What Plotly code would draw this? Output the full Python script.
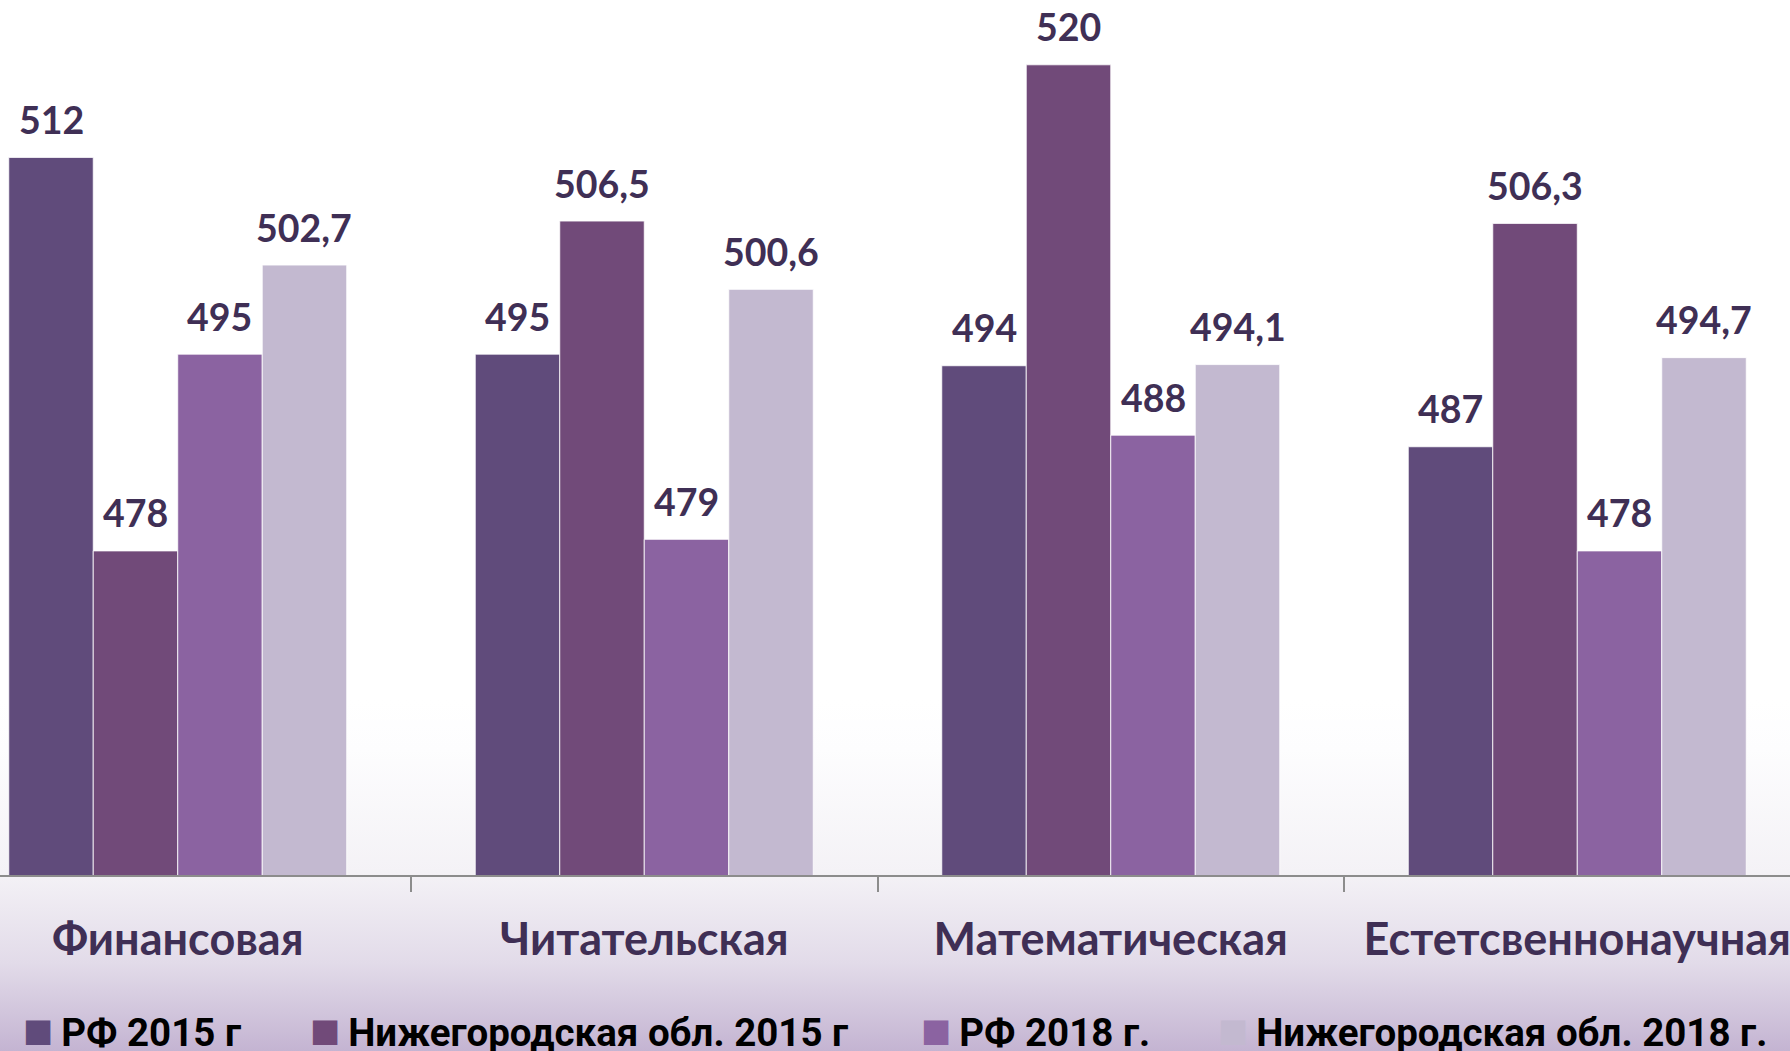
import base64
import plotly.graph_objects as go

categories = ["Финансовая", "Читательская", "Математическая", "Естетсвеннонаучная"]
series_names = ["РФ 2015 г", "Нижегородская обл. 2015 г", "РФ 2018 г.", "Нижегородская обл. 2018 г."]
rf_2015 = [512, 495, 494, 487]
nn_2015 = [478, 506.5, 520, 506.3]
rf_2018 = [495, 479, 488, 478]
nn_2018 = [502.7, 500.6, 494.1, 494.7]
series_values = [rf_2015, nn_2015, rf_2018, nn_2018]
colors = ["#604b7b", "#714a79", "#8b63a1", "#c3b9d0"]

LABEL_COLOR = "#3f2f55"
BARGAP = 0.2755
W, H = 1790, 1051
PLOT_H = 875
FONT = "Lato, 'Open Sans', sans-serif"
LEG_FONT = "Roboto, sans-serif"
LEGEND_LEFT_PX = [24, 311, 922, 1219]


def fmt(v):
    return f"{v:g}".replace(".", ",")


fig = go.Figure()
legend_layouts = {}
for i, (name, vals, col) in enumerate(zip(series_names, series_values, colors)):
    lg = "legend" if i == 0 else f"legend{i + 1}"
    fig.add_trace(go.Bar(
        x=categories, y=vals, name=name,
        marker=dict(color=col, line=dict(color="rgba(255,255,255,0.8)", width=1)),
        showlegend=False, hoverinfo="x+y",
    ))
    fig.add_trace(go.Scatter(
        x=[None], y=[None], mode="markers", legend=lg,
        name=(f"<span style='color:{col};font-family:DejaVu Sans;font-size:32px;baseline-shift:5px'>■</span>"
              f"<span style='font-size:32px'> </span>{name}"),
        marker=dict(symbol="square", size=1, color="rgba(0,0,0,0)"),
        showlegend=True, hoverinfo="skip",
    ))
    legend_layouts[lg] = dict(
        orientation="h", x=(LEGEND_LEFT_PX[i] - 41) / W, xanchor="left",
        y=-(1031 - PLOT_H) / PLOT_H, yanchor="middle",
        font=dict(family=LEG_FONT, size=38.5, color="black", weight="bold"),
        bgcolor="rgba(0,0,0,0)", borderwidth=0,
    )

# value labels above bars
n = len(series_values)
bw = (1 - BARGAP) / n
annotations = []
for si, vals in enumerate(series_values):
    for ci, v in enumerate(vals):
        annotations.append(dict(
            x=ci + (si - (n - 1) / 2) * bw, y=v, xref="x", yref="y",
            text=fmt(v), showarrow=False, yanchor="middle", yshift=38,
            font=dict(family=FONT, size=37.5, color=LABEL_COLOR, weight="bold"),
        ))

svg = (
    '<svg xmlns="http://www.w3.org/2000/svg" width="100" height="100" preserveAspectRatio="none">'
    '<defs><linearGradient id="g" x1="0" y1="0" x2="0" y2="1">'
    '<stop offset="0" stop-color="#ffffff"/>'
    '<stop offset="0.14" stop-color="#fdfdfe"/>'
    '<stop offset="0.49" stop-color="#f4f2f6"/>'
    '<stop offset="0.75" stop-color="#e2dbe9"/>'
    '<stop offset="1" stop-color="#c4b4d2"/>'
    '</linearGradient></defs><rect width="100" height="100" fill="url(#g)"/></svg>'
)
src = "data:image/svg+xml;base64," + base64.b64encode(svg.encode()).decode()

fig.update_layout(
    width=W, height=H, autosize=False,
    margin=dict(l=0, r=0, t=0, b=H - PLOT_H, pad=0, autoexpand=False),
    paper_bgcolor="white", plot_bgcolor="rgba(0,0,0,0)",
    barmode="group", bargap=BARGAP, bargroupgap=0,
    annotations=annotations,
    images=[dict(source=src, xref="paper", yref="paper", x=0, y=(PLOT_H - 700) / PLOT_H,
                 sizex=1, sizey=(H - 700) / PLOT_H, xanchor="left", yanchor="top",
                 sizing="stretch", layer="below")],
    showlegend=True,
    xaxis=dict(type="category", range=[-0.381, 3.456], showline=True, linecolor="#8c8c8c", linewidth=2,
               ticks="outside", tickson="boundaries", ticklen=15, tickcolor="#8c8c8c", tickwidth=2,
               showgrid=False, zeroline=False, ticklabelstandoff=24,
               tickfont=dict(family=FONT, size=45, color=LABEL_COLOR, weight="bold")),
    yaxis=dict(range=[450, 525.6], visible=False, showgrid=False, zeroline=False),
)
fig.update_layout(**legend_layouts)

fig.write_html("out.html", config={"displayModeBar": False},
               post_script="document.body.style.margin='0';document.body.style.overflow='hidden';")
